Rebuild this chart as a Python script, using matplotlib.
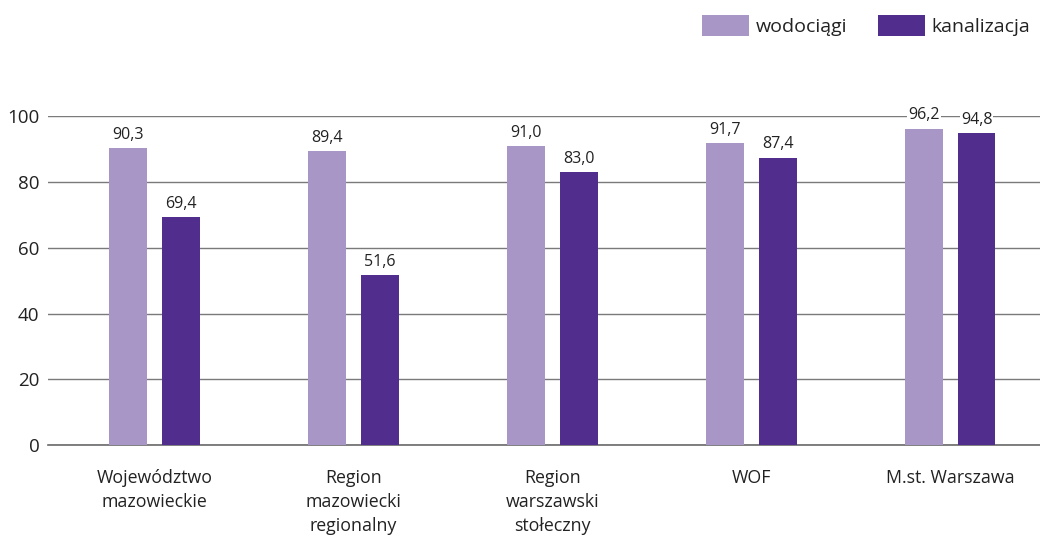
import numpy as np
import matplotlib.pyplot as plt

plt.rcParams['font.family'] = ['Open Sans', 'DejaVu Sans']

categories = ["Województwo\nmazowieckie", "Region\nmazowiecki\nregionalny",
              "Region\nwarszawski\nstołeczny", "WOF", "M.st. Warszawa"]
wodociagi = [90.3, 89.4, 91.0, 91.7, 96.2]
kanalizacja = [69.4, 51.6, 83.0, 87.4, 94.8]

c_light = "#a897c6"
c_dark = "#512d8e"

fig = plt.figure(figsize=(10.4, 5.35), dpi=100)
ax = fig.add_axes([0.046, 0.168, 0.954, 0.615])

x = np.arange(len(categories))
w = 0.19
off = 0.133

b1 = ax.bar(x - off, wodociagi, w, color=c_light, label="wodociągi", zorder=3)
b2 = ax.bar(x + off, kanalizacja, w, color=c_dark, label="kanalizacja", zorder=3)

for bars, vals in [(b1, wodociagi), (b2, kanalizacja)]:
    for b, v in zip(bars, vals):
        ax.text(b.get_x() + b.get_width() / 2, v + 4.0, f"{v:.1f}".replace(".", ","),
                ha="center", va="center", fontsize=11.5, color="#222222", zorder=4,
                clip_on=False,
                bbox=dict(facecolor="white", edgecolor="none", pad=0.8))

ax.set_xlim(-0.538, 4.452)
ax.set_ylim(0, 100)
ax.set_yticks([0, 20, 40, 60, 80, 100])
ax.yaxis.grid(True, color="#7a7a7a", linewidth=1, zorder=0)
ax.tick_params(axis="y", length=0, pad=6, labelsize=13.5, labelcolor="#222222")
ax.set_xticks(x)
ax.set_xticklabels(categories, fontsize=12.8, color="#222222", linespacing=1.45, va="top")
ax.tick_params(axis="x", length=0, pad=17)

for s in ["top", "right", "left"]:
    ax.spines[s].set_visible(False)
ax.spines["bottom"].set_color("#6a6a6a")
ax.spines["bottom"].set_linewidth(1.2)
ax.spines["bottom"].set_zorder(2)

fig.legend(handles=[b1, b2], loc="upper right", bbox_to_anchor=(1.0, 0.99), ncol=2,
           frameon=False, fontsize=14, handlelength=2.4, handleheight=1.3,
           columnspacing=1.6, handletextpad=0.35, labelcolor="#222222",
           borderaxespad=0.2, borderpad=0.3)

fig.savefig("out.png", dpi=100)
